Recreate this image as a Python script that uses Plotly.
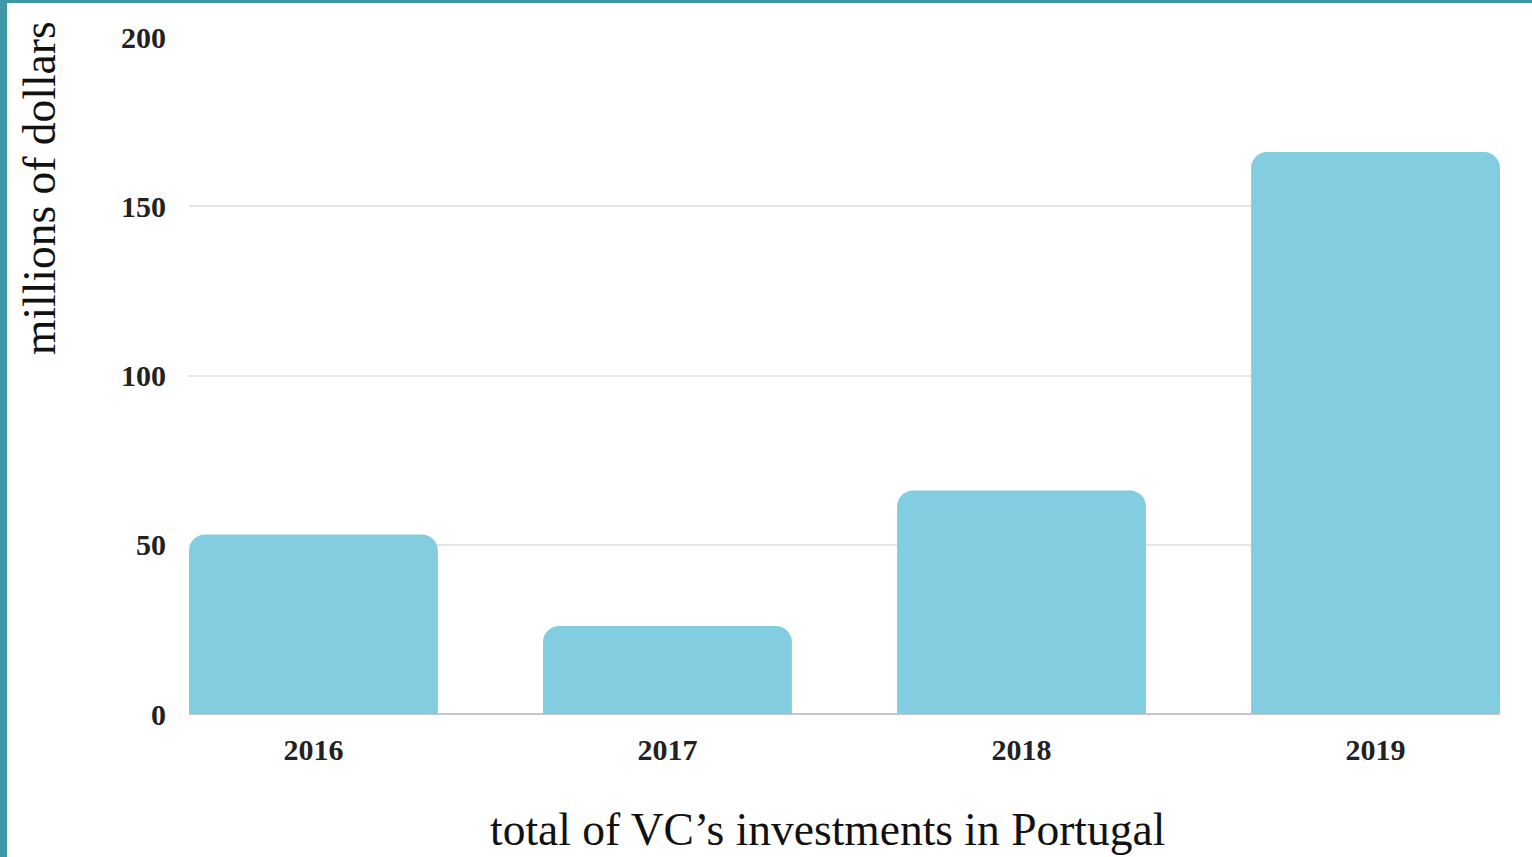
import plotly.graph_objects as go

years = ["2016", "2017", "2018", "2019"]
investments = [53, 26, 66, 166]
y_ticks = [0, 50, 100, 150, 200]

W, H = 1532, 857
ML, MR, MT, MB = 189, 32, 37, 143
pw = W - ML - MR
ph = H - MT - MB

fig = go.Figure(go.Bar(
    x=years, y=investments,
    marker=dict(color="#82cee0", line=dict(width=0)),
    width=0.703,
))

def px_to_paper_x(px):
    return (px - ML) / pw

def px_to_paper_y(py):
    return (H - MB - py) / ph

fig.update_layout(
    width=W, height=H,
    margin=dict(l=ML, r=MR, t=MT, b=MB, autoexpand=False),
    paper_bgcolor="white", plot_bgcolor="white",
    barcornerradius=16,
    showlegend=False,
    font=dict(family="Liberation Serif", color="#222222"),
    xaxis=dict(
        type="category", range=[-0.3515, 3.3515],
        showgrid=False, showline=False, zeroline=False,
        ticks="", ticklabelstandoff=15,
        tickfont=dict(family="Liberation Serif", size=30, color="#222222", weight="bold"),
    ),
    yaxis=dict(
        range=[0, 200], tickvals=y_ticks,
        showgrid=True, gridcolor="#e6e6e6", gridwidth=1.5,
        zeroline=True, zerolinecolor="#c8c8c8", zerolinewidth=2,
        showline=False, ticks="", ticklabelstandoff=22,
        tickfont=dict(family="Liberation Serif", size=30, color="#222222", weight="bold"),
    ),
    annotations=[
        dict(text="total of VC\u2019s investments in Portugal", xref="paper", yref="paper",
             x=px_to_paper_x(827), y=px_to_paper_y(829), xanchor="center", yanchor="middle",
             showarrow=False, font=dict(family="Liberation Serif", size=45.5, color="#111111")),
        dict(text="millions of dollars", xref="paper", yref="paper", textangle=-90,
             x=px_to_paper_x(40), y=px_to_paper_y(188), xanchor="center", yanchor="middle",
             showarrow=False, font=dict(family="Liberation Serif", size=45.5, color="#111111")),
    ],
    shapes=[
        dict(type="rect", xref="paper", yref="paper", layer="above",
             x0=px_to_paper_x(0), x1=px_to_paper_x(7), y0=px_to_paper_y(H), y1=px_to_paper_y(0),
             fillcolor="#3f97a8", line=dict(width=0)),
        dict(type="rect", xref="paper", yref="paper", layer="above",
             x0=px_to_paper_x(0), x1=px_to_paper_x(W), y0=px_to_paper_y(3), y1=px_to_paper_y(0),
             fillcolor="#3f97a8", line=dict(width=0)),
    ],
)

fig.write_html("out.html", config={"displayModeBar": False},
               post_script="document.body.style.margin='0';document.body.style.overflow='hidden';")
